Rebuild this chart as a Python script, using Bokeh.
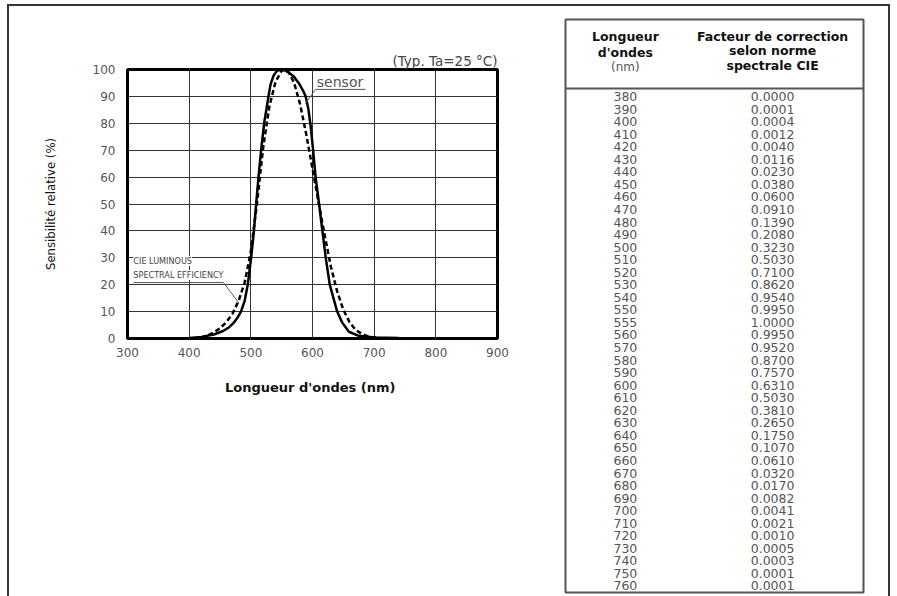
from bokeh.plotting import figure
from bokeh.models import Range1d, Label, Span
from bokeh.layouts import row
from bokeh.embed import file_html
from bokeh.resources import INLINE
from bokeh.core.properties import value

# ---------------- data ----------------
# CIE table (wavelength nm, correction factor)
table_nm = [380, 390, 400, 410, 420, 430, 440, 450, 460, 470, 480, 490, 500, 510,
            520, 530, 540, 550, 555, 560, 570, 580, 590, 600, 610, 620, 630, 640,
            650, 660, 670, 680, 690, 700, 710, 720, 730, 740, 750, 760]
table_factor = [0.0000, 0.0001, 0.0004, 0.0012, 0.0040, 0.0116, 0.0230, 0.0380,
                0.0600, 0.0910, 0.1390, 0.2080, 0.3230, 0.5030, 0.7100, 0.8620,
                0.9540, 0.9950, 1.0000, 0.9950, 0.9520, 0.8700, 0.7570, 0.6310,
                0.5030, 0.3810, 0.2650, 0.1750, 0.1070, 0.0610, 0.0320, 0.0170,
                0.0082, 0.0041, 0.0021, 0.0010, 0.0005, 0.0003, 0.0001, 0.0001]

# sensor relative sensitivity (%)
sensor_nm = [380, 400, 420, 440, 455, 465, 472, 478, 484, 490, 495, 500.5, 505,
             508.6, 512.4, 516.7, 521.6, 528.6, 532, 537, 542, 548, 555, 562, 570,
             579, 585, 589, 593.5, 597, 601, 605, 610.7, 616, 621.5, 628, 640, 648,
             659, 675, 700, 740, 780]
sensor_pct = [0, 0.2, 0.6, 1.5, 2.8, 4.2, 5.8, 7.6, 10, 14, 20, 30, 40, 50, 60,
              70, 80, 90, 94.5, 97.8, 99.4, 100, 99.7, 98.8, 97.3, 94.5, 92, 90,
              85, 79, 70, 60, 50, 40, 30, 20, 10, 6, 2.5, 1, 0.4, 0.15, 0]

x_ticks = [300, 400, 500, 600, 700, 800, 900]
y_ticks = [0, 10, 20, 30, 40, 50, 60, 70, 80, 90, 100]

# annotation leader lines (data coords)
sensor_leader_x = [686, 605, 588.5]
sensor_leader_y = [92.6, 92.6, 87.4]
cie_leader_x = [309.7, 455.6, 480]
cie_leader_y = [20.8, 20.8, 13.4]

header_left = ["Longueur", "d'ondes", "(nm)"]
header_right = ["Facteur de correction", "selon norme", "spectrale CIE"]

# ---------------- chart ----------------
p = figure(width=536, height=590, x_range=Range1d(300, 900), y_range=Range1d(0, 100),
           output_backend="svg", toolbar_location=None,
           min_border_left=118, min_border_right=48, min_border_top=63,
           min_border_bottom=258, frame_align=False)
p.background_fill_color = "white"
p.border_fill_color = "white"
p.outline_line_color = "black"
p.outline_line_width = 3

p.title.text = "(Typ. Ta=25 °C)"
p.title.align = "right"
p.title.text_font = "DejaVu Sans"
p.title.text_font_size = "13.5px"
p.title.text_font_style = "normal"
p.title.text_color = "#444444"
p.title.standoff = 1

for ax in (p.xaxis[0], p.yaxis[0]):
    ax.axis_line_color = None
    ax.major_tick_line_color = None
    ax.minor_tick_line_color = None
    ax.major_label_text_font = "DejaVu Sans"
    ax.major_label_text_font_size = "12px"
    ax.major_label_text_color = "#555555"
p.xaxis.ticker = x_ticks
p.yaxis.ticker = y_ticks
p.xaxis.major_label_standoff = 3
p.yaxis.major_label_standoff = 6

p.xaxis.axis_label = "Longueur d'ondes  (nm)"
p.xaxis.axis_label_text_font = "DejaVu Sans"
p.xaxis.axis_label_text_font_size = "13px"
p.xaxis.axis_label_text_font_style = "bold"
p.xaxis.axis_label_text_color = "#111111"
p.xaxis.axis_label_standoff = 20

p.yaxis.axis_label = "Sensibilité relative (%)"
p.yaxis.axis_label_text_font = "DejaVu Sans Condensed"
p.yaxis.axis_label_text_font_size = "13px"
p.yaxis.axis_label_text_font_style = "normal"
p.yaxis.axis_label_text_color = "#111111"
p.yaxis.axis_label_standoff = 32

p.xgrid.ticker = x_ticks
p.ygrid.ticker = y_ticks
p.grid.grid_line_color = "#333333"
p.grid.grid_line_width = 1
p.grid.grid_line_alpha = 1

cie_pct = [f * 100 for f in table_factor]
p.line(sensor_nm, sensor_pct, line_color="black", line_width=2.5)
p.line(table_nm, cie_pct, line_color="black", line_width=2.5, line_dash="5 3")

p.line(sensor_leader_x, sensor_leader_y, line_color="#555555", line_width=1)
p.line(cie_leader_x, cie_leader_y, line_color="#555555", line_width=1)

p.add_layout(Label(x=607, y=95.5, text="sensor", text_align="left",
                   text_baseline="middle", text_font="DejaVu Sans",
                   text_font_size="14px", text_color="#555555"))
p.add_layout(Label(x=309.5, y=28.8, text="CIE LUMINOUS", text_align="left",
                   text_baseline="middle", text_font="DejaVu Sans Condensed",
                   text_font_size="9px", text_color="#444444",
                   background_fill_color="white"))
p.add_layout(Label(x=309.5, y=23.6, text="SPECTRAL EFFICIENCY", text_align="left",
                   text_baseline="middle", text_font="DejaVu Sans Condensed",
                   text_font_size="9px", text_color="#444444",
                   background_fill_color="white"))

# ---------------- table ----------------
t = figure(width=343, height=590, x_range=Range1d(0, 1), y_range=Range1d(39.52, -6.135),
           output_backend="svg", toolbar_location=None,
           min_border_left=20, min_border_right=25, min_border_top=13,
           min_border_bottom=4, frame_align=False)
t.axis.visible = False
t.grid.visible = False
t.background_fill_color = "white"
t.border_fill_color = "white"
t.outline_line_color = "#555555"
t.outline_line_width = 2
t.add_layout(Span(location=-0.64, dimension="width", line_color="#555555",
                  line_width=2))

rows = list(range(len(table_nm)))
t.text(x=[0.201] * len(rows), y=rows, text=[str(v) for v in table_nm],
       text_align="center", text_baseline="middle", text_font=value("DejaVu Sans"),
       text_font_size="12.5px", text_color="#555555")
t.text(x=[0.695] * len(rows), y=rows, text=[f"{v:.4f}" for v in table_factor],
       text_align="center", text_baseline="middle", text_font=value("DejaVu Sans"),
       text_font_size="12.5px", text_color="#555555")

t.text(x=[0.201, 0.201], y=[-4.77, -3.53], text=header_left[:2], text_align="center",
       text_baseline="middle", text_font=value("DejaVu Sans"), text_font_size="12.5px",
       text_font_style="bold", text_color="#111111")
t.text(x=[0.201], y=[-2.34], text=header_left[2:], text_align="center",
       text_baseline="middle", text_font=value("DejaVu Sans"), text_font_size="12px",
       text_color="#555555")
t.text(x=[0.695] * 3, y=[-4.77, -3.65, -2.5], text=header_right, text_align="center",
       text_baseline="middle", text_font=value("DejaVu Sans"), text_font_size="12.5px",
       text_font_style="bold", text_color="#111111")

layout = row(p, t, styles={"border-left": "2px solid #333333",
                           "border-top": "2px solid #333333",
                           "border-right": "2px solid #333333",
                           "margin-left": "7px", "margin-top": "4px"})

open("out.html", "w").write(file_html(layout, INLINE))
